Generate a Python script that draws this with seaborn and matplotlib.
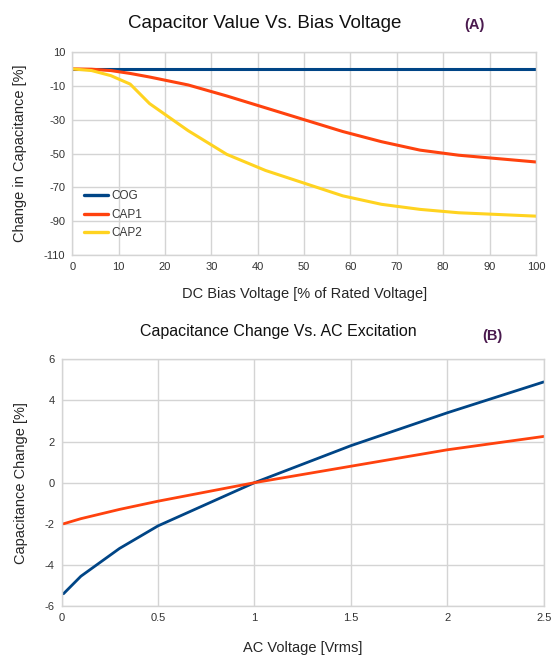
import matplotlib

matplotlib.use("Agg")
import matplotlib.pyplot as plt  # noqa: E402
import pandas as pd  # noqa: E402
import seaborn as sns  # noqa: E402

# DC bias data, percent of rated voltage vs change in capacitance
dc_bias = [0, 4.17, 8.33, 12.5, 16.67, 25, 33.33, 41.67, 50, 58.33, 66.67, 75, 83.33, 91.67, 100]
cog_dc = [0, 0, 0, 0, 0, 0, 0, 0, 0, 0, 0, 0, 0, 0, 0]
cap1_dc = [0, -0.2, -1.0, -2.7, -4.8, -9.5, -16, -23, -30, -37, -43, -48, -51, -53, -55]
cap2_dc = [0, -1.0, -4.0, -9.0, -20.5, -36.5, -50.5, -60, -67.5, -75, -80, -83, -85, -86, -87]

# AC excitation data
ac_volts = [0.01, 0.1, 0.3, 0.5, 1.0, 1.5, 2.0, 2.5]
ac_blue = [-5.4, -4.55, -3.2, -2.1, 0, 1.8, 3.4, 4.9]
ac_orange = [-2.0, -1.75, -1.3, -0.9, 0, 0.8, 1.6, 2.25]

series_names = ["COG", "CAP1", "CAP2"]
palette = {"COG": "#004586", "CAP1": "#ff420e", "CAP2": "#ffd320"}

sns.set_style("whitegrid")
plt.rcParams["font.family"] = ["Liberation Sans", "DejaVu Sans"]
plt.rcParams["axes.unicode_minus"] = False

dc_df = pd.DataFrame({
    "bias": dc_bias * 3,
    "change": cog_dc + cap1_dc + cap2_dc,
    "part": [n for n in series_names for _ in dc_bias],
})
ac_df = pd.DataFrame({
    "volts": ac_volts * 2,
    "change": ac_blue + ac_orange,
    "part": ["COG"] * len(ac_volts) + ["CAP1"] * len(ac_volts),
})

fig = plt.figure(figsize=(5.6, 6.66), dpi=100)
ax1 = fig.add_axes([0.129, 0.617, 0.828, 0.305])
ax2 = fig.add_axes([0.110, 0.090, 0.861, 0.3705])

grid_color = "#d4d4d4"
tick_color = "#333333"


def style_axes(ax):
    ax.grid(True, color=grid_color, linewidth=1.0)
    for spine in ax.spines.values():
        spine.set_color(grid_color)
        spine.set_linewidth(1.0)
    ax.tick_params(axis="both", labelsize=8, colors=tick_color, length=3,
                   color=grid_color, pad=2)


sns.lineplot(data=dc_df, x="bias", y="change", hue="part", palette=palette,
             linewidth=2.2, ax=ax1)
ax1.set_xlim(0, 100)
ax1.set_ylim(-110, 10)
ax1.set_xticks(range(0, 101, 10))
ax1.set_yticks(range(-110, 11, 20))
style_axes(ax1)
ax1.set_xlabel("DC Bias Voltage [% of Rated Voltage]", fontsize=10.5, labelpad=11)
ax1.set_ylabel("Change in Capacitance [%]", fontsize=10.5, labelpad=12)
leg = ax1.legend(loc="lower left", bbox_to_anchor=(0.0, 0.02), frameon=False,
                 fontsize=8.5, handlelength=2.0, handletextpad=0.35, labelspacing=0.55,
                 borderaxespad=0.6)
for line in leg.get_lines():
    line.set_linewidth(2.4)
for text in leg.get_texts():
    text.set_color("#3a3a3a")

sns.lineplot(data=ac_df, x="volts", y="change", hue="part", palette=palette,
             linewidth=2.0, ax=ax2, legend=False)
ax2.set_xlim(0, 2.5)
ax2.set_ylim(-6, 6)
ax2.set_xticks([0, 0.5, 1, 1.5, 2, 2.5])
ax2.set_xticklabels(["0", "0.5", "1", "1.5", "2", "2.5"])
ax2.set_yticks(range(-6, 7, 2))
style_axes(ax2)
ax2.set_xlabel("AC Voltage [Vrms]", fontsize=10.5, labelpad=13)
ax2.set_ylabel("Capacitance Change [%]", fontsize=10.5, labelpad=12)

fig.text(0.473, 0.965, "Capacitor Value Vs. Bias Voltage", ha="center", va="center",
         fontsize=13.5, color="#111111")
fig.text(0.848, 0.963, "(A)", ha="center", va="center", fontsize=10.5,
         fontweight="bold", color="#4a1a4e")
fig.text(0.497, 0.502, "Capacitance Change Vs. AC Excitation", ha="center", va="center",
         fontsize=11.5, color="#111111")
fig.text(0.880, 0.496, "(B)", ha="center", va="center", fontsize=10.5,
         fontweight="bold", color="#4a1a4e")

fig.savefig("out.png", dpi=100)
plt.close(fig)
